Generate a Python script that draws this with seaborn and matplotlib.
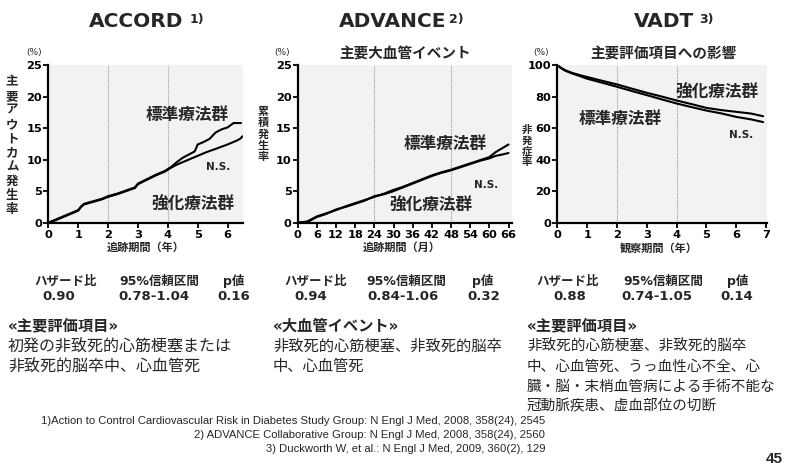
import matplotlib
matplotlib.use("Agg")
import matplotlib.pyplot as plt
import matplotlib.font_manager as fm
import seaborn as sns
import pandas as pd

# ---------------- data ----------------
accord_std_t = [0, 0.2, 0.4, 0.6, 0.8, 1.0, 1.1, 1.2, 1.5, 1.8, 2.0, 2.3, 2.6, 2.9, 3.0, 3.3, 3.6, 3.9,
                4.1, 4.3, 4.5, 4.7, 4.9, 5.0, 5.2, 5.4, 5.6, 5.8, 6.0, 6.2, 6.45]
accord_std_v = [0, 0.4, 0.8, 1.2, 1.6, 2.0, 2.6, 3.0, 3.4, 3.8, 4.2, 4.6, 5.1, 5.6, 6.2, 6.9, 7.6, 8.2,
                8.8, 9.6, 10.3, 10.8, 11.3, 12.4, 12.8, 13.3, 14.3, 14.8, 15.1, 15.8, 15.8]
accord_int_t = [0, 0.2, 0.4, 0.6, 0.8, 1.0, 1.1, 1.2, 1.5, 1.8, 2.0, 2.3, 2.6, 2.9, 3.0, 3.3, 3.6, 3.9,
                4.1, 4.3, 4.6, 5.0, 5.3, 5.6, 6.0, 6.3, 6.42, 6.5]
accord_int_v = [0, 0.3, 0.7, 1.1, 1.5, 1.9, 2.5, 2.9, 3.3, 3.7, 4.1, 4.5, 5.0, 5.5, 6.1, 6.8, 7.5, 8.1,
                8.7, 9.2, 9.8, 10.6, 11.2, 11.7, 12.4, 13.0, 13.3, 13.7]

adv_t = [0, 3, 6, 9, 12, 15, 18, 21, 24, 27, 30, 33, 36, 39, 42, 45, 48, 51, 54, 57, 60, 62, 64, 66]
adv_std_v = [0, 0.2, 1.0, 1.5, 2.0, 2.6, 3.1, 3.6, 4.1, 4.6, 5.2, 5.7, 6.3, 6.9, 7.5, 8.0, 8.4, 8.9,
             9.4, 9.9, 10.4, 11.2, 11.8, 12.4]
adv_int_v = [0, 0.1, 0.9, 1.4, 2.1, 2.5, 3.0, 3.5, 4.2, 4.5, 5.0, 5.6, 6.2, 6.8, 7.4, 7.9, 8.3, 8.8,
             9.3, 9.8, 10.2, 10.6, 10.8, 11.05]

vadt_t = [0, 0.1, 0.25, 0.5, 0.75, 1, 1.5, 2, 2.5, 3, 3.5, 4, 4.5, 5, 5.5, 6, 6.5, 6.9]
vadt_int_v = [100, 98.5, 96.8, 95.0, 93.6, 92.4, 90.0, 87.7, 85.0, 82.4, 80.0, 77.5, 75.2, 72.8, 71.4,
              70.3, 69.2, 67.5]
vadt_std_v = [100, 98.3, 96.5, 94.6, 93.0, 91.3, 88.8, 86.2, 83.5, 80.9, 78.2, 75.6, 73.3, 71.1, 69.3,
              67.1, 65.5, 63.8]

titles = ["ACCORD", "ADVANCE", "VADT"]
title_refs = ["1)", "2)", "3)"]
subtitles = ["", "主要大血管イベント", "主要評価項目への影響"]
ylabels = ["主要アウトカム発生率", "累積発生率", "非発症率"]
xlabels = ["追跡期間（年）", "追跡期間（月）", "観察期間（年）"]
std_label = "標準療法群"
int_label = "強化療法群"
ns_label = "N.S."

accord_xticks = [0, 1, 2, 3, 4, 5, 6]
adv_xticks = [0, 6, 12, 18, 24, 30, 36, 42, 48, 54, 60, 66]
vadt_xticks = [0, 1, 2, 3, 4, 5, 6, 7]
pct_yticks = [0, 5, 10, 15, 20, 25]
vadt_yticks = [0, 20, 40, 60, 80, 100]

stat_headers = ["ハザード比", "95%信頼区間", "p値"]
accord_stats = ["0.90", "0.78-1.04", "0.16"]
adv_stats = ["0.94", "0.84-1.06", "0.32"]
vadt_stats = ["0.88", "0.74-1.05", "0.14"]

sections = ["«主要評価項目»", "«大血管イベント»", "«主要評価項目»"]
accord_body = ["初発の非致死的心筋梗塞または", "非致死的脳卒中、心血管死"]
adv_body = ["非致死的心筋梗塞、非致死的脳卒", "中、心血管死"]
vadt_body = ["非致死的心筋梗塞、非致死的脳卒", "中、心血管死、うっ血性心不全、心",
             "臓・脳・末梢血管病による手術不能な", "冠動脈疾患、虚血部位の切断"]

references = [
    "1)Action to Control Cardiovascular Risk in Diabetes Study Group: N Engl J Med, 2008, 358(24), 2545",
    "2) ADVANCE Collaborative Group: N Engl J Med, 2008, 358(24), 2560",
    "3) Duckworth W, et al.: N Engl J Med, 2009, 360(2), 129",
]
page_no = "45"

# ---------------- style ----------------
sns.set_style("ticks")
CJK = ['DejaVu Sans', 'Noto Sans CJK JP']
plt.rcParams['font.family'] = CJK

W, H = 785, 467
fig = plt.figure(figsize=(W / 100, H / 100), dpi=100)
fig.patch.set_facecolor('white')


def fx(px):
    return px / W


def fy(py):
    return 1 - py / H


def T(px, py, s, size, weight='bold', ha='center', va='center', family=None, **kw):
    return fig.text(fx(px), fy(py), s, fontsize=size, fontweight=weight, ha=ha, va=va,
                    family=family or CJK, **kw)


def make_ax(l, r, t=65.0, b=222.7):
    return fig.add_axes([fx(l), fy(b), (r - l) / W, (b - t) / H])


def draw_panel(ax, t1, v1, t2, v2, xlim, ylim, xticks, yticks, vlines):
    df = pd.concat([
        pd.DataFrame({'t': t1, 'v': v1, 'grp': std_label}),
        pd.DataFrame({'t': t2, 'v': v2, 'grp': int_label}),
    ])
    sns.lineplot(data=df, x='t', y='v', hue='grp', palette=['black', 'black'],
                 estimator=None, legend=False, ax=ax, linewidth=1.5, zorder=3)
    ax.set_facecolor('#f2f2f2')
    ax.set_xlim(*xlim)
    ax.set_ylim(*ylim)
    ax.set_xticks(xticks, labels=[str(x) for x in xticks], fontweight='bold')
    ax.set_yticks(yticks, labels=[str(y) for y in yticks], fontweight='bold')
    for s in ['top', 'right']:
        ax.spines[s].set_visible(False)
    for s in ['left', 'bottom']:
        ax.spines[s].set_linewidth(1.6)
        ax.spines[s].set_color('black')
    ax.tick_params(axis='both', length=3.5, width=1.3, labelsize=8.2, colors='black')
    ax.tick_params(axis='y', pad=1)
    ax.tick_params(axis='x', pad=2)
    for v in vlines:
        ax.axvline(v, color='#9a9a9a', lw=0.8, ls=(0, (1, 1)), zorder=1)
    ax.set_xlabel('')
    ax.set_ylabel('')
    ax.grid(False)


ax1 = make_ax(48.3, 242.5)
draw_panel(ax1, accord_std_t, accord_std_v, accord_int_t, accord_int_v,
           (0, 6.5), (0, 25), accord_xticks, pct_yticks, [2, 4])
ax2 = make_ax(297.7, 511.7)
draw_panel(ax2, adv_t, adv_std_v, adv_t, adv_int_v,
           (0, 67), (0, 25), adv_xticks, pct_yticks, [24, 48])
ax3 = make_ax(557.3, 767)
draw_panel(ax3, vadt_t, vadt_std_v, vadt_t, vadt_int_v,
           (0, 7.03), (0, 100), vadt_xticks, vadt_yticks, [2, 4])

# ---------------- titles ----------------
title_cx = [136, 393, 664]
sup_x = [190, 449, 699]
for cx, sx, ttl, sup in zip(title_cx, sup_x, titles, title_refs):
    T(cx, 27.3, ttl, 14.5, va='baseline')
    T(sx, 23.5, sup, 9, ha='left', va='baseline')

T(405, 54, subtitles[1], 10.5)
T(663, 54, subtitles[2], 10.5)

for x in [34, 282, 541]:
    T(x, 53, "(%)", 6.5, weight='normal')

# stacked y labels (one character per row)
for x, y0, step, size, lab in [(12, 82, 14.2, 9, ylabels[0]),
                               (263, 112, 11.3, 8, ylabels[1]),
                               (527, 130, 10.7, 7.5, ylabels[2])]:
    for i, ch in enumerate(lab):
        T(x, y0 + i * step, ch, size)

for x, lab in zip([146, 402, 659], xlabels):
    T(x, 248, lab, 8)

# in-plot annotations
T(187, 115, std_label, 12)
T(193, 205, int_label, 12)
T(218, 167, ns_label, 7.5)
T(445, 144, std_label, 12)
T(431, 206, int_label, 12)
T(486, 185, ns_label, 7.5)
T(717, 93, int_label, 12)
T(620, 119, std_label, 12)
T(741, 135, ns_label, 7.5)

# ---------------- stats ----------------
hdr_x = [[66, 159, 234], [316, 406, 483], [568, 663, 738]]
val_x = [[59, 154, 234], [311, 403, 484], [570, 657, 737]]
for hx, vx, vals in zip(hdr_x, val_x, [accord_stats, adv_stats, vadt_stats]):
    for x, h in zip(hx, stat_headers):
        T(x, 281, h, 9)
    for x, v in zip(vx, vals):
        T(x, 297, v, 9.5)

# ---------------- descriptions ----------------
for x, sec in zip([8, 273, 527], sections):
    T(x, 326, sec, 11, ha='left')
for x, lines, size in [(8, accord_body, 11.5), (273, adv_body, 11), (527, vadt_body, 10.5)]:
    for i, line in enumerate(lines):
        T(x, 346 + i * 20, line, size, weight='normal', ha='left')

# ---------------- references ----------------
names = {f.name for f in fm.fontManager.ttflist}
ref_family = ['Liberation Sans Narrow'] if 'Liberation Sans Narrow' in names else ['Liberation Sans']
ref_texts = []
for i, r in enumerate(references):
    ref_texts.append(T(545, 421 + i * 14, r, 8, weight='normal', ha='right', family=ref_family))
renderer = fig.canvas.get_renderer()
w0 = ref_texts[0].get_window_extent(renderer=renderer).width
new_size = 8 * 508 / w0
for t in ref_texts:
    t.set_fontsize(new_size)

T(774, 459, page_no, 11, family=ref_family)

fig.savefig("out.png", dpi=100, facecolor='white')
